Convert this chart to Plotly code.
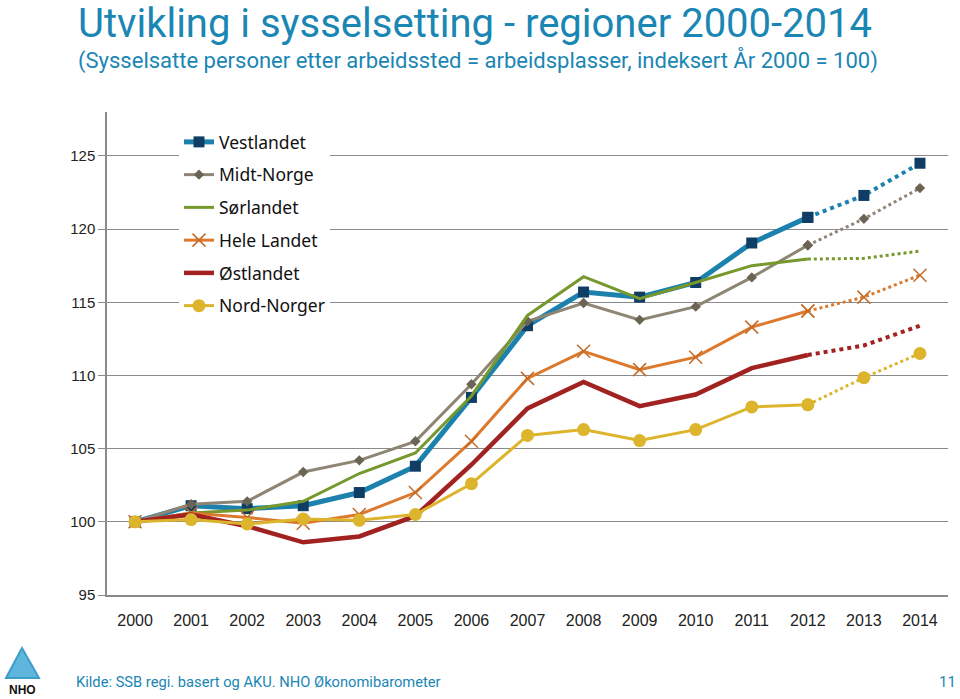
import plotly.graph_objects as go

years = [str(y) for y in range(2000, 2015)]

vestlandet = [100, 101.1, 100.9, 101.1, 102.0, 103.8, 108.5, 113.4, 115.7, 115.35, 116.35, 119.05, 120.8, 122.3, 124.5]
midt_norge = [100, 101.2, 101.4, 103.4, 104.2, 105.5, 109.4, 113.7, 114.95, 113.8, 114.7, 116.7, 118.9, 120.7, 122.8]
sorlandet = [100, 100.6, 100.8, 101.4, 103.3, 104.7, 108.6, 114.1, 116.75, 115.25, 116.35, 117.5, 117.95, 118.0, 118.5]
hele_landet = [100, 100.6, 100.3, 99.9, 100.5, 102.0, 105.5, 109.8, 111.65, 110.4, 111.25, 113.3, 114.4, 115.35, 116.85]
ostlandet = [100, 100.5, 99.7, 98.6, 99.0, 100.4, 103.9, 107.75, 109.55, 107.9, 108.7, 110.5, 111.4, 112.05, 113.4]
nord_norger = [100, 100.15, 99.85, 100.2, 100.1, 100.5, 102.6, 105.9, 106.3, 105.55, 106.3, 107.85, 108.0, 109.85, 111.5]

y_ticks = [95, 100, 105, 110, 115, 120, 125]

series = [
    ("Vestlandet", vestlandet, "#1c82ad", 5, dict(symbol="square", size=11, color="#0f3d63")),
    ("Midt-Norge", midt_norge, "#8e8575", 3, dict(symbol="diamond", size=8, color="#6b6354")),
    ("Sørlandet", sorlandet, "#76982c", 3, None),
    ("Hele Landet", hele_landet, "#dc792c", 3, dict(symbol="x-thin", size=13, color="#c46b28", line=dict(color="#c46b28", width=1.5))),
    ("Østlandet", ostlandet, "#a12220", 4.5, None),
    ("Nord-Norger", nord_norger, "#dcb52c", 3, dict(symbol="circle", size=13, color="#dcb52c")),
]

fig = go.Figure()
split = 12  # index of 2012: solid up to here, dotted afterwards
for i, (name, vals, col, w, mk) in enumerate(series):
    mode = "lines+markers" if mk else "lines"
    kw = dict(marker=mk) if mk else {}
    fig.add_trace(go.Scatter(
        x=years[:split + 1], y=vals[:split + 1], name=name, mode=mode,
        line=dict(color=col, width=w), legendgroup=name, showlegend=True, **kw))
    fig.add_trace(go.Scatter(
        x=years[split:], y=vals[split:], name=name, mode=mode,
        line=dict(color=col, width=w if w < 4 else 4, dash="dot"),
        legendgroup=name, showlegend=False, **kw))

def px2x(px):
    return (px - 107) / 841

def px2y(py):
    return (595 - py) / 483

teal = "#1a86b4"
tfont = "Roboto, Liberation Sans"
annotations = [
    dict(text="Utvikling i sysselsetting - regioner 2000-2014", x=px2x(76), y=px2y(24),
         xref="paper", yref="paper", xanchor="left", yanchor="middle", showarrow=False,
         font=dict(family=tfont, size=40, color=teal)),
    dict(text="(Sysselsatte personer etter arbeidssted = arbeidsplasser, indeksert År 2000 = 100)",
         x=px2x(76), y=px2y(60), xref="paper", yref="paper", xanchor="left", yanchor="middle",
         showarrow=False, font=dict(family=tfont, size=22, color=teal)),
    dict(text="Kilde: SSB regi. basert og AKU. NHO Økonomibarometer", x=px2x(74), y=px2y(682),
         xref="paper", yref="paper", xanchor="left", yanchor="middle", showarrow=False,
         font=dict(family=tfont, size=14.7, color=teal)),
    dict(text="11", x=px2x(958), y=px2y(682), xref="paper", yref="paper", xanchor="right",
         yanchor="middle", showarrow=False, font=dict(family=tfont, size=15, color=teal)),
    dict(text="<b>NHO</b>", x=px2x(22), y=px2y(690), xref="paper", yref="paper", xanchor="center",
         yanchor="middle", showarrow=False,
         font=dict(family="Liberation Sans", size=12, color="#111111")),
]

shapes = [
    dict(type="path", xref="paper", yref="paper",
         path="M {a},{b} L {c},{d} L {e},{f} Z".format(
             a=px2x(22), b=px2y(648), c=px2x(6), d=px2y(678), e=px2x(39), f=px2y(678)),
         fillcolor="#5fb6dc", line=dict(color="#3d9cc8", width=2)),
]

fig.update_layout(
    width=960, height=699,
    margin=dict(l=107, r=12, t=112, b=104),
    paper_bgcolor="white", plot_bgcolor="white",
    font=dict(family="Liberation Sans", size=15, color="#222222"),
    showlegend=True,
    legend=dict(x=px2x(179), y=px2y(124), xanchor="left", yanchor="top",
                bgcolor="white", borderwidth=0, itemwidth=30,
                font=dict(family="Noto Sans, Liberation Sans", size=17.5, color="#111111"),
                traceorder="grouped", tracegroupgap=7),
    annotations=annotations,
    shapes=shapes,
    xaxis=dict(type="category", range=[-0.5, 14.5], showgrid=False, showline=True,
               linecolor="#8a8a8a", linewidth=1.5, ticks="", tickfont=dict(size=16),
               ticklabelstandoff=10, zeroline=False),
    yaxis=dict(range=[95, 128], tickvals=y_ticks, showgrid=True, gridcolor="#8a8a8a",
               gridwidth=1.3, showline=True, linecolor="#8a8a8a", linewidth=1.5,
               ticks="outside", ticklen=7, tickcolor="#8a8a8a", zeroline=False,
               tickfont=dict(size=15)),
)

fig.write_html("out.html", config={"displayModeBar": False},
               post_script="document.body.style.margin='0';")
